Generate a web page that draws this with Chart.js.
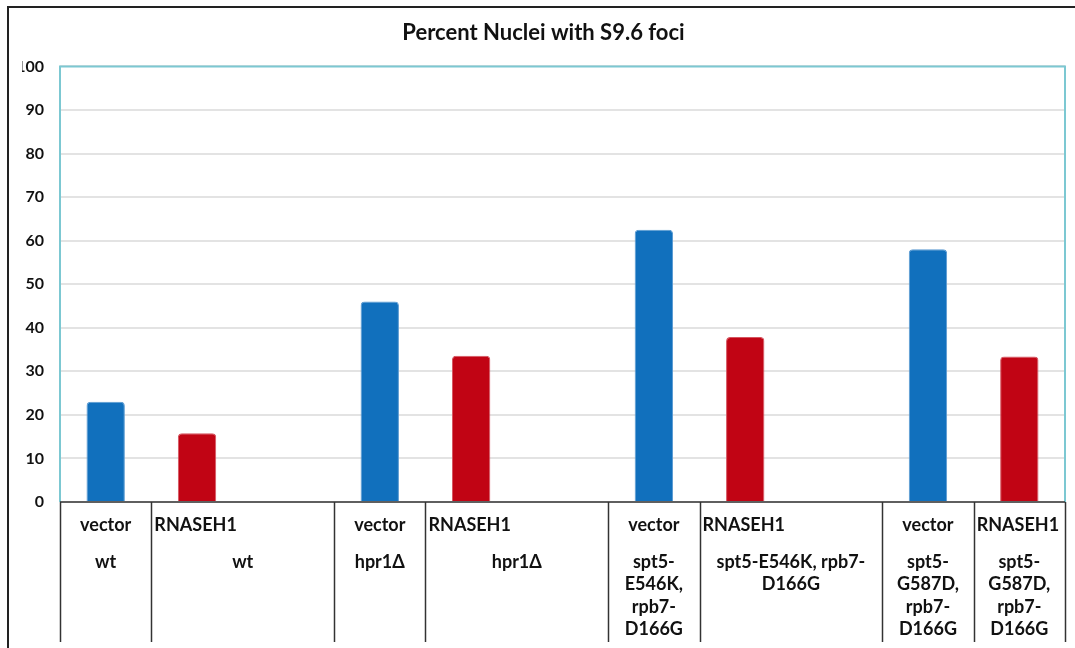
<!DOCTYPE html>
<html>
<head>
<meta charset="utf-8">
<script src="https://cdn.jsdelivr.net/npm/chart.js@4"></script>
<style>
  body { margin: 0; background: #fff; }
  #wrap { position: relative; width: 1075px; height: 648px; }
</style>
</head>
<body>
<div id="wrap"><canvas id="nucleiChart" width="1075" height="648"></canvas></div>
<script>
const chartTitle = 'Percent Nuclei with S9.6 foci';
const strains = ['wt', 'hpr1Δ', 'spt5-E546K, rpb7-D166G', 'spt5-G587D, rpb7-D166G'];
const vectorValues = [23, 46, 62.5, 58];
const rnaseValues = [15.8, 33.6, 37.9, 33.4];
const yTicks = [0, 10, 20, 30, 40, 50, 60, 70, 80, 90, 100];

// table below the axis: [first row, second row lines, first slot, slot span, first row align]
const tableCells = [
    ['vector', ['wt'], 0, 1, 'center'],
    ['RNASEH1', ['wt'], 1, 2, 'left'],
    ['vector', ['hpr1Δ'], 3, 1, 'center'],
    ['RNASEH1', ['hpr1Δ'], 4, 2, 'left'],
    ['vector', ['spt5-', 'E546K,', 'rpb7-', 'D166G'], 6, 1, 'center'],
    ['RNASEH1', ['spt5-E546K, rpb7-', 'D166G'], 7, 2, 'left'],
    ['vector', ['spt5-', 'G587D,', 'rpb7-', 'D166G'], 9, 1, 'center'],
    ['RNASEH1', ['spt5-', 'G587D,', 'rpb7-', 'D166G'], 10, 1, 'left']
];

// 11 slots: vector, RNASEH1, gap per strain (last one without gap)
const slots = [];
const vectorData = [];
const rnaseData = [];
strains.forEach((s, i) => {
    slots.push(s + ' vector', s + ' RNASEH1');
    vectorData.push(vectorValues[i], null);
    rnaseData.push(null, rnaseValues[i]);
    if (i < strains.length - 1) {
        slots.push('');
        vectorData.push(null);
        rnaseData.push(null);
    }
});

const fontFamily = 'Lato, "Open Sans", sans-serif';
const labelFont = 'bold 18px ' + fontFamily;

const framePlugin = {
    id: 'frame',
    beforeDraw(chart) {
        const ctx = chart.ctx;
        ctx.save();
        ctx.strokeStyle = '#222';
        ctx.lineWidth = 2;
        ctx.beginPath();
        ctx.moveTo(8, 648);
        ctx.lineTo(8, 7);
        ctx.lineTo(1075, 7);
        ctx.stroke();
        ctx.restore();
    },
    afterDraw(chart) {
        const ctx = chart.ctx;
        const a = chart.chartArea;
        ctx.save();
        // teal plot border
        ctx.strokeStyle = '#7cc8d2';
        ctx.lineWidth = 2;
        ctx.beginPath();
        ctx.moveTo(a.left, a.bottom);
        ctx.lineTo(a.left, a.top);
        ctx.lineTo(a.right, a.top);
        ctx.lineTo(a.right, a.bottom);
        ctx.stroke();
        // dark base line
        ctx.strokeStyle = '#333';
        ctx.lineWidth = 1.5;
        ctx.beginPath();
        ctx.moveTo(a.left, a.bottom);
        ctx.lineTo(a.right, a.bottom);
        ctx.stroke();
        // table
        const slotW = (a.right - a.left) / slots.length;
        ctx.fillStyle = '#111';
        ctx.font = labelFont;
        ctx.textBaseline = 'middle';
        const edges = new Set([slots.length]);
        tableCells.forEach(c => {
            const left = a.left + c[2] * slotW;
            const right = left + c[3] * slotW;
            edges.add(c[2]);
            if (c[4] === 'left') {
                ctx.textAlign = 'left';
                ctx.fillText(c[0], left + 3, a.bottom + 23);
            } else {
                ctx.textAlign = 'center';
                ctx.fillText(c[0], (left + right) / 2, a.bottom + 23);
            }
            ctx.textAlign = 'center';
            c[1].forEach((line, j) => {
                ctx.fillText(line, (left + right) / 2, a.bottom + 60 + j * 22.5);
            });
        });
        ctx.strokeStyle = '#333';
        ctx.lineWidth = 1.5;
        edges.forEach(e => {
            const px = Math.round(a.left + e * slotW) + 0.5;
            ctx.beginPath();
            ctx.moveTo(px, a.bottom);
            ctx.lineTo(px, 642);
            ctx.stroke();
        });
        ctx.restore();
    }
};

new Chart(document.getElementById('nucleiChart'), {
    type: 'bar',
    data: {
        labels: slots,
        datasets: [
            {
                label: 'vector',
                data: vectorData,
                backgroundColor: '#1170bd',
                borderColor: '#5a9ad2',
                borderWidth: 1,
                borderRadius: { topLeft: 4, topRight: 4 },
                borderSkipped: 'bottom'
            },
            {
                label: 'RNASEH1',
                data: rnaseData,
                backgroundColor: '#c10414',
                borderColor: '#d55560',
                borderWidth: 1,
                borderRadius: { topLeft: 4, topRight: 4 },
                borderSkipped: 'bottom'
            }
        ]
    },
    plugins: [framePlugin],
    options: {
        responsive: false,
        animation: false,
        grouped: false,
        barPercentage: 0.42,
        categoryPercentage: 1,
        layout: { padding: { left: 22, right: 10, top: 0, bottom: 0 } },
        plugins: {
            legend: { display: false },
            tooltip: { enabled: false },
            title: {
                display: true,
                text: chartTitle,
                color: '#111',
                font: { family: fontFamily, size: 22, weight: 'bold' },
                padding: { top: 20, bottom: 20 }
            }
        },
        scales: {
            x: {
                grid: { display: false },
                border: { display: false },
                ticks: { display: false },
                afterFit(scale) { scale.height = 146; }
            },
            y: {
                min: 0,
                max: 100,
                afterBuildTicks(scale) { scale.ticks = yTicks.map(v => ({ value: v })); },
                afterFit(scale) { scale.width = 38; },
                grid: { color: '#e3e3e3', lineWidth: 2, drawTicks: false },
                border: { display: false },
                ticks: {
                    padding: 16,
                    color: '#111',
                    font: { family: fontFamily, size: 16, weight: 'bold' }
                }
            }
        }
    }
});
</script>
</body>
</html>
